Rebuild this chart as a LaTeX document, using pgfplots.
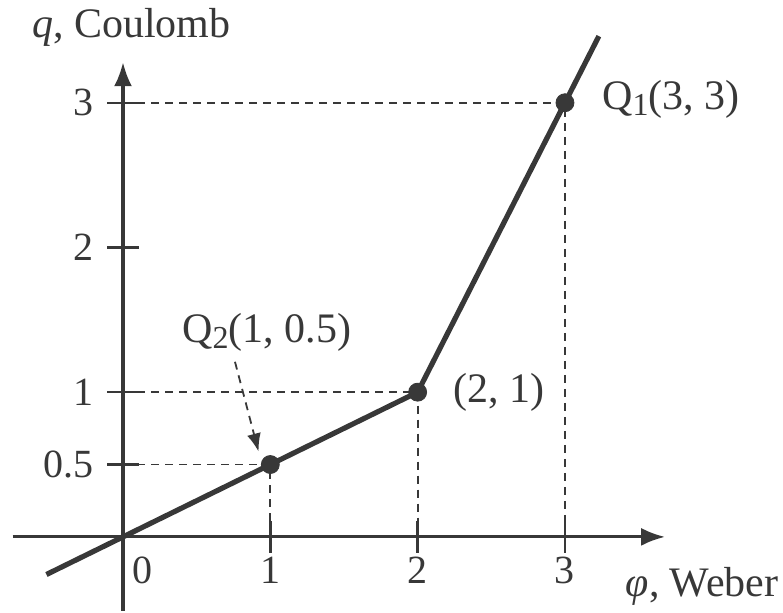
\documentclass[border=0pt]{standalone}
\usepackage{fontspec}
\setmainfont{Liberation Serif}
\usepackage{pgfplots}
\pgfplotsset{compat=1.18}
\usetikzlibrary{arrows.meta}
\definecolor{ink}{HTML}{383838}
\newcommand{\lbl}{\fontsize{21}{24}\selectfont}
\newcommand{\tlbl}{\fontsize{20}{23}\selectfont}
\newcommand{\sub}[1]{\raisebox{-0.3ex}{\fontsize{16}{18}\selectfont #1}}
\begin{document}
\begin{tikzpicture}
\begin{axis}[
  x=73.65pt, y=72.35pt,
  xmin=-0.75, xmax=3.68, ymin=-0.511, ymax=3.28,
  axis lines=middle,
  axis line style={ink, line width=1.6pt, -{Latex[length=12pt,width=9pt]}},
  xtick={1,2,3}, ytick={0.5,1,2,3},
  xticklabels={1,2,3}, yticklabels={0.5,1,2,3},
  tick align=center, major tick length=16pt,
  tick style={ink, line width=1.2pt},
  ticklabel style={font=\tlbl, text=ink},
  xticklabel style={yshift=1.5pt},
  yticklabel style={xshift=-3pt},
  /pgf/number format/assume math mode=true,
  clip=false,
]
% guide lines to the marked points
\addplot[ink, line width=0.9pt, dash pattern=on 4pt off 3pt] coordinates {(0,3) (3,3) (3,0)};
\addplot[ink, line width=0.9pt, dash pattern=on 4pt off 3pt] coordinates {(0,1) (2,1) (2,0)};
\addplot[ink, line width=0.9pt, dash pattern=on 4pt off 3pt] coordinates {(0,0.5) (1,0.5) (1,0)};
% piecewise-linear charge-flux characteristic
\addplot[ink, line width=2.6pt] coordinates {(-0.52,-0.26) (0,0) (1,0.5) (2,1) (3,3) (3.23,3.46)};
\addplot[only marks, mark=*, mark size=4.5pt, ink] coordinates {(1,0.5) (2,1) (3,3)};
% pointer to Q2
\addplot[ink, line width=0.9pt, dash pattern=on 4pt off 3pt, -{Latex[length=9pt,width=7pt]}] coordinates {(0.76,1.21) (0.92,0.59)};
% labels
\begin{scope}[every node/.style={inner sep=0pt, text=ink, font=\lbl}]
\node[anchor=west] at (axis cs:3.25,3.02) {Q\sub{1}(3, 3)};
\node[anchor=west] at (axis cs:2.24,1.0) {(2, 1)};
\node[anchor=west] at (axis cs:0.40,1.41) {Q\sub{2}(1, 0.5)};
\node[anchor=west] at (axis cs:-0.62,3.52) {\textit{q}, Coulomb};
\node[anchor=west] at (axis cs:3.41,-0.345) {\textit{φ}, Weber};
\node[font=\tlbl] at (axis cs:0.135,-0.23) {0};
\end{scope}
% page extent
\path (axis cs:-0.835,-0.511) rectangle (axis cs:4.48,3.71);
\end{axis}
\end{tikzpicture}
\end{document}
